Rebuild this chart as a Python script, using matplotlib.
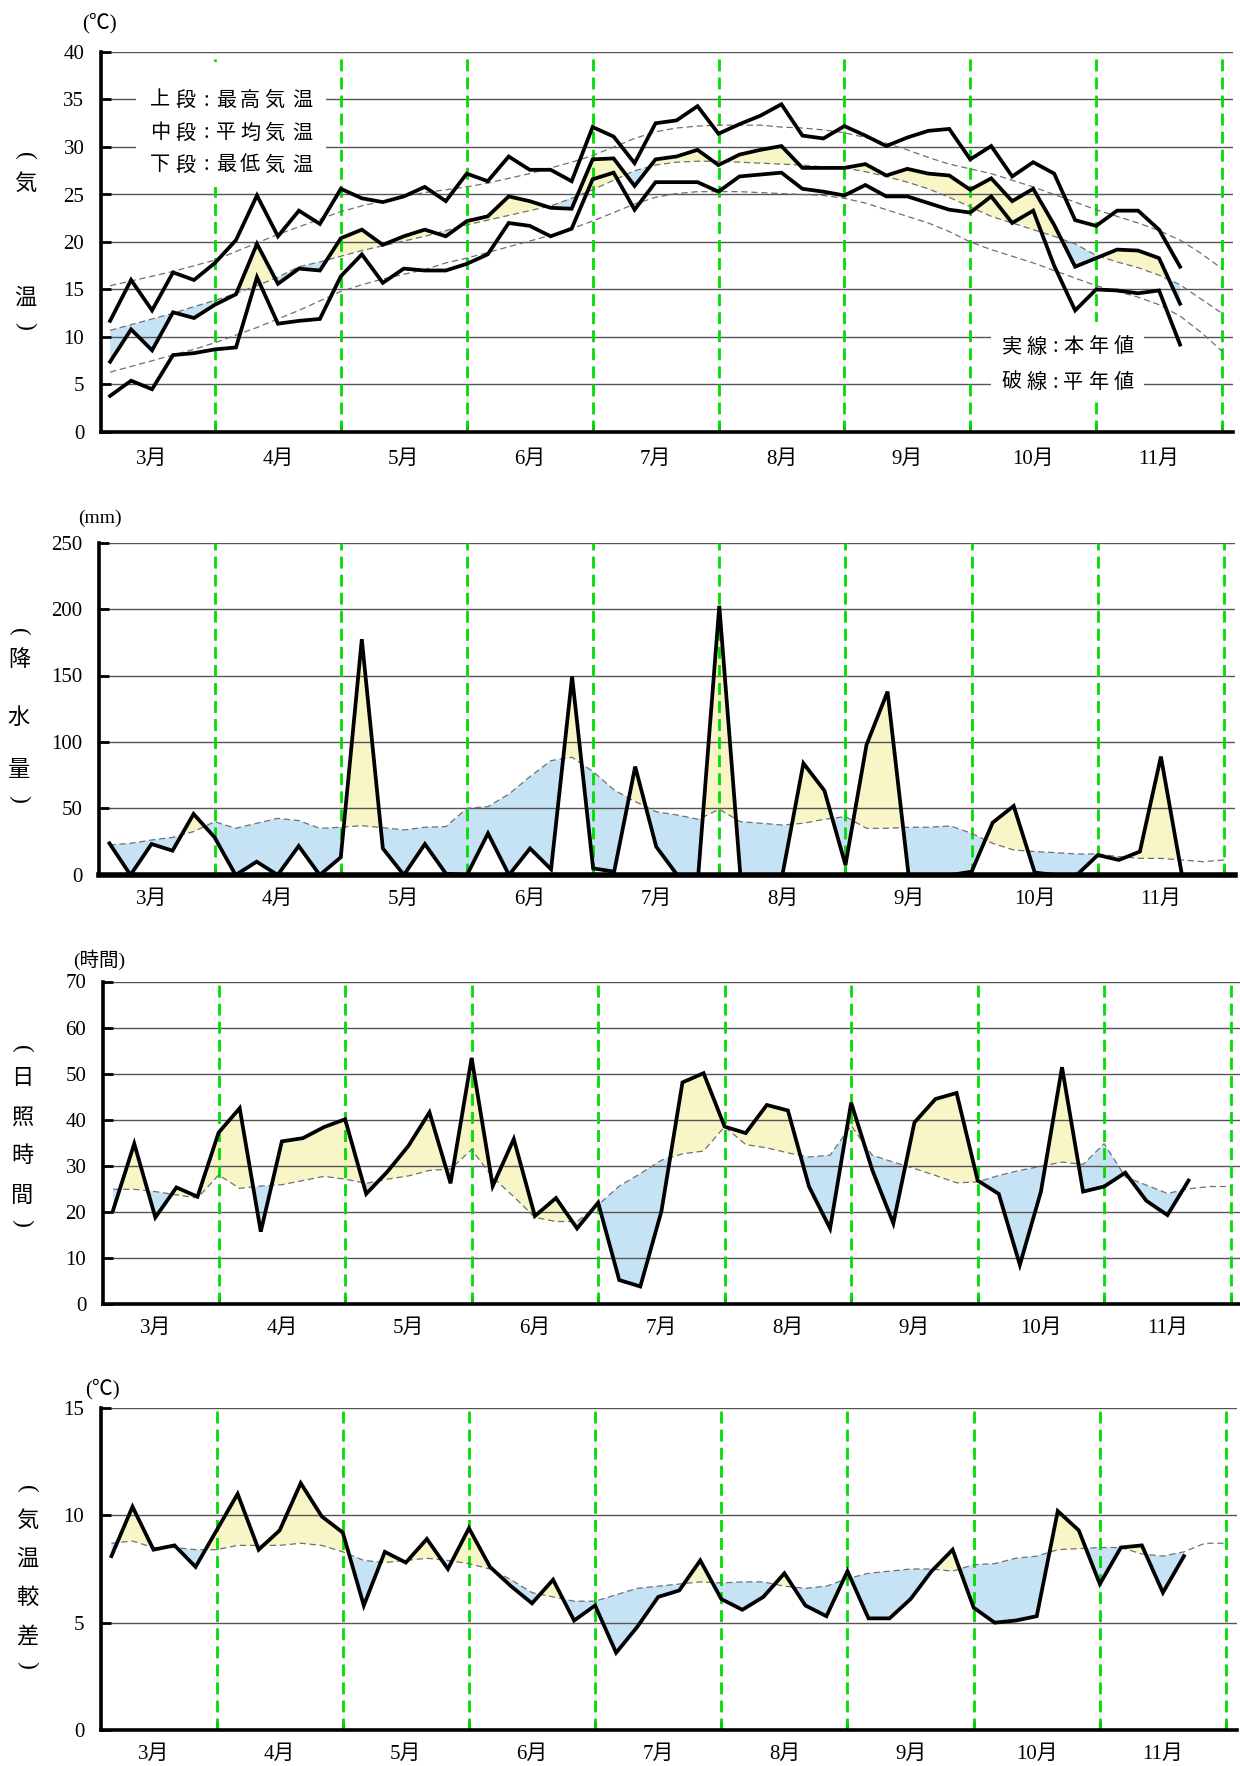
import matplotlib.pyplot as plt
import numpy as np
from matplotlib.patches import Rectangle

plt.rcParams['font.family'] = ['Liberation Serif', 'Noto Sans CJK JP']

W, H = 1240, 1766

months = ['3月', '4月', '5月', '6月', '7月', '8月', '9月', '10月', '11月']

# 気温 (半旬値) 本年値
tmax = [11.7, 16.0, 12.8, 16.8, 16.0, 17.8, 20.2, 24.9, 20.6, 23.3, 21.9, 25.6, 24.6, 24.2, 24.8, 25.8, 24.3, 27.2,
        26.4, 29.0, 27.6, 27.6, 26.4, 32.1, 31.1, 28.3, 32.5, 32.8, 34.3, 31.4, 32.4, 33.3, 34.5, 31.2, 30.9, 32.2,
        31.2, 30.1, 31.0, 31.7, 31.9, 28.7, 30.1, 26.9, 28.4, 27.2, 22.3, 21.7, 23.3, 23.3, 21.3, 17.4]
tmean = [7.4, 10.8, 8.6, 12.6, 12.0, 13.4, 14.5, 19.8, 15.6, 17.2, 17.0, 20.4, 21.3, 19.7, 20.6, 21.3, 20.6, 22.2,
         22.7, 24.8, 24.3, 23.6, 23.5, 28.7, 28.8, 25.9, 28.7, 29.0, 29.7, 28.1, 29.2, 29.7, 30.1, 27.8, 27.8, 27.8,
         28.2, 27.0, 27.7, 27.2, 27.0, 25.5, 26.7, 24.3, 25.6, 21.8, 17.4, 18.3, 19.2, 19.1, 18.3, 13.5]
tmin = [3.8, 5.4, 4.5, 8.1, 8.3, 8.7, 8.9, 16.3, 11.4, 11.7, 11.9, 16.4, 18.7, 15.7, 17.2, 17.0, 17.0, 17.7,
        18.7, 22.0, 21.7, 20.6, 21.4, 26.6, 27.3, 23.4, 26.3, 26.3, 26.3, 25.3, 26.9, 27.1, 27.3, 25.6, 25.3, 24.9,
        26.0, 24.8, 24.8, 24.1, 23.4, 23.1, 24.8, 22.0, 23.3, 17.5, 12.8, 15.0, 14.9, 14.6, 14.9, 9.2]
# 平年値
tmax_n = [15.4, 15.9, 16.4, 16.9, 17.5, 18.1, 19.0, 19.9, 20.8, 21.6, 22.4, 23.2, 23.8, 24.3, 24.8, 25.2, 25.5, 25.8,
          26.2, 26.7, 27.2, 27.8, 28.4, 29.1, 30.0, 30.9, 31.6, 32.0, 32.2, 32.3, 32.3, 32.3, 32.1, 32.0, 31.8, 31.5,
          31.0, 30.4, 29.7, 28.9, 28.2, 27.7, 27.2, 26.5, 25.8, 25.0, 24.2, 23.4, 22.7, 22.0, 21.2, 20.2, 18.8, 17.2]
tmean_n = [10.7, 11.3, 11.9, 12.5, 13.2, 13.85, 14.6, 15.4, 16.3, 17.4, 17.9, 18.5, 19.1, 19.6, 20.1, 20.6, 21.2, 21.8,
           22.3, 22.8, 23.3, 23.8, 24.6, 25.5, 26.5, 27.5, 28.1, 28.4, 28.5, 28.5, 28.4, 28.3, 28.2, 28.1, 27.9, 27.8,
           27.4, 26.9, 26.3, 25.6, 24.7, 23.7, 22.7, 22.0, 21.3, 20.6, 19.8, 18.6, 17.9, 17.3, 16.5, 15.5, 14.0, 12.5]
tmin_n = [6.3, 6.9, 7.5, 8.1, 8.7, 9.4, 10.2, 11.0, 11.9, 12.8, 13.8, 14.8, 15.5, 16.1, 16.6, 17.1, 17.8, 18.3,
          18.9, 19.5, 20.1, 20.7, 21.4, 22.2, 23.1, 24.0, 24.7, 25.1, 25.3, 25.3, 25.3, 25.2, 25.1, 25.0, 24.9, 24.6,
          24.1, 23.4, 22.7, 22.0, 21.1, 20.0, 19.2, 18.5, 17.8, 17.0, 16.2, 15.4, 14.8, 14.2, 13.4, 12.2, 10.5, 8.5]

# 降水量
rain = [23.8, 0, 23.3, 18.3, 45.9, 28.3, 0, 10.0, 0, 21.8, 0, 13.3, 177.3, 20.0, 0, 23.3, 1.0, 0,
        31.3, 0, 20.0, 4.3, 149.2, 5.0, 2.5, 81.5, 21.3, 0, 0, 202.4, 0, 0, 0, 84.0, 63.4, 7.5,
        97.8, 137.9, 0, 0, 0, 2.5, 39.4, 51.9, 1.8, 0, 0, 15.0, 11.3, 17.6, 89.0, 0]
rain_n = [22.6, 23.8, 26.3, 28.3, 32.6, 40.1, 35.1, 38.9, 42.6, 40.9, 35.1, 35.9, 37.1, 35.6, 33.9, 35.9, 36.4, 50.2,
          51.4, 60.9, 74.0, 86.0, 88.5, 77.7, 63.9, 55.2, 47.6, 45.1, 41.9, 49.4, 40.1, 38.9, 37.6, 38.9, 41.9, 43.9,
          35.1, 35.1, 35.9, 35.9, 36.9, 31.3, 23.8, 18.8, 17.6, 16.8, 15.8, 15.8, 13.8, 12.5, 12.5, 11.3, 10.0, 11.3]

# 日照時間
sun = [20.4, 34.8, 18.8, 25.3, 23.3, 37.2, 42.5, 15.7, 35.3, 36.0, 38.4, 40.1, 23.9, 28.7, 34.3, 41.6, 26.2, 53.4,
       25.6, 35.8, 19.1, 23.0, 16.4, 22.0, 5.2, 3.8, 20.1, 48.1, 50.1, 38.5, 37.1, 43.2, 42.0, 25.5, 16.4, 43.7,
       29.1, 17.5, 39.4, 44.5, 45.8, 26.8, 23.9, 8.5, 24.4, 51.4, 24.4, 25.5, 28.5, 22.4, 19.3, 26.8]
sun_n = [24.9, 24.9, 24.4, 23.7, 23.0, 28.0, 25.1, 25.6, 25.9, 26.8, 27.7, 27.1, 26.2, 27.1, 27.8, 29.0, 29.3, 33.5,
         27.5, 23.3, 18.8, 17.9, 17.9, 21.5, 25.6, 28.3, 31.2, 32.6, 33.2, 38.5, 34.6, 33.9, 32.8, 31.9, 32.3, 38.7,
         32.3, 30.8, 29.4, 27.9, 26.3, 26.5, 27.9, 29.0, 29.9, 30.8, 30.3, 34.8, 27.6, 25.8, 24.0, 25.0, 25.5, 25.5]

# 気温較差
trange = [8.1, 10.4, 8.4, 8.6, 7.6, 9.3, 11.0, 8.4, 9.3, 11.5, 9.95, 9.2, 5.8, 8.3, 7.8, 8.9, 7.5, 9.4,
          7.6, 6.7, 5.9, 7.0, 5.1, 5.8, 3.6, 4.8, 6.2, 6.5, 7.9, 6.1, 5.6, 6.2, 7.3, 5.8, 5.3, 7.4,
          5.2, 5.2, 6.1, 7.4, 8.4, 5.7, 5.0, 5.1, 5.3, 10.2, 9.3, 6.8, 8.5, 8.6, 6.4, 8.1]
trange_n = [8.7, 8.8, 8.5, 8.5, 8.4, 8.4, 8.6, 8.6, 8.6, 8.7, 8.6, 8.3, 7.9, 7.8, 7.9, 8.0, 7.9, 7.75,
            7.5, 7.0, 6.4, 6.2, 6.0, 6.0, 6.3, 6.6, 6.7, 6.8, 6.9, 6.85, 6.9, 6.9, 6.7, 6.6, 6.7, 7.05,
            7.3, 7.4, 7.5, 7.5, 7.4, 7.7, 7.75, 8.0, 8.1, 8.4, 8.45, 8.5, 8.5, 8.2, 8.1, 8.3, 8.7, 8.7]

yellow = '#f8f5c6'
blue = '#c6e3f6'
green = '#00dd00'

fig = plt.figure(figsize=(W / 100, H / 100), dpi=100)


def fx(px):
    return px / W


def fy(py):
    return 1 - py / H


def panel(box, ymax, ystep, actual, normals, fill_idx, bottom_lw=2.6, pad=12):
    # box: 6半旬目と54半旬目のx位置, 軸の左右上下 (px)
    x6, x54, left, right, top, bottom = box
    s = (x54 - x6) / 48
    ax = fig.add_axes([fx(left), fy(bottom), (right - left) / W, (bottom - top) / H])
    ax.set_xlim(6 + (left - x6) / s, 6 + (right - x6) / s)
    ax.set_ylim(0, ymax)

    # 塗りつぶし (本年値と平年値の差)
    a = np.array(actual[fill_idx])
    n = np.array(normals[fill_idx][:len(a)])
    xa = np.arange(1, len(a) + 1)
    ax.fill_between(xa, a, n, where=a >= n, interpolate=True, color=yellow, lw=0, zorder=1)
    ax.fill_between(xa, a, n, where=a <= n, interpolate=True, color=blue, lw=0, zorder=1)

    yt = np.arange(0, ymax + ystep / 2, ystep)
    for v in yt[1:]:
        ax.axhline(v, color='#555555', lw=1.0, zorder=1.5)
    for m in range(6, 55, 6):
        ax.axvline(m, color=green, lw=2.0, dashes=(4.3, 2.2), zorder=2)

    for nor in normals:
        ax.plot(np.arange(1, len(nor) + 1), nor, color='#707070', lw=0.9, dashes=(5, 3), zorder=3)
    for act in actual:
        ax.plot(np.arange(1, len(act) + 1), act, color='black', lw=2.7, zorder=4,
                solid_joinstyle='miter')

    ax.spines[['top', 'right']].set_visible(False)
    ax.spines['left'].set_linewidth(2.6)
    ax.spines['bottom'].set_linewidth(bottom_lw)
    ax.spines['left'].set_zorder(5)
    ax.spines['bottom'].set_zorder(5)

    ax.set_yticks(yt)
    ax.set_yticklabels([f'{v:g}' for v in yt])
    ax.tick_params(axis='y', direction='in', length=7, width=2, labelsize=15, pad=12)
    ax.set_xticks(range(6, 55, 6))
    ax.set_xticklabels([])
    ax.tick_params(axis='x', which='major', direction='in', length=6, width=2)
    ax.set_xticks(range(3, 52, 6), minor=True)
    ax.set_xticklabels(months, minor=True)
    ax.tick_params(axis='x', which='minor', length=0, labelsize=15, pad=pad)
    return ax


ax1 = panel((215, 1222, 101, 1233, 52, 432), 40, 5, [tmax, tmean, tmin], [tmax_n, tmean_n, tmin_n], 1, pad=13)
ax2 = panel((214.6, 1224, 99, 1235, 542.5, 875), 250, 50, [rain], [rain_n], 0, bottom_lw=4.0, pad=11)
ax3 = panel((218.6, 1230.7, 103, 1240, 981.5, 1304), 70, 10, [sun], [sun_n], 0, pad=11)
ax4 = panel((216.6, 1226, 101, 1237, 1408, 1730), 15, 5, [trange], [trange_n], 0, pad=11)

# 凡例の白地
for (x0, y0, x1, y1) in [(136, 62, 326, 187), (991, 322, 1144, 400)]:
    fig.add_artist(Rectangle((fx(x0), fy(y1)), (x1 - x0) / W, (y1 - y0) / H,
                             transform=fig.transFigure, facecolor='white', edgecolor='none', zorder=1))


def spaced(xs, y, s, size=14.5):
    for x, ch in zip(xs, s):
        fig.text(fx(x), fy(y), ch, ha='center', va='center', fontsize=size,
                 family=['Noto Sans CJK JP', 'DejaVu Sans'], zorder=3)


leg1_x = [160, 185, 206, 226, 250, 274, 302]
for y, s in zip([100, 133, 165], ['上段:最高気温', '中段:平均気温', '下段:最低気温']):
    spaced(leg1_x, y, s)
leg2_x = [1012, 1037, 1055, 1073, 1099, 1124]
for y, s in zip([347, 382], ['実線:本年値', '破線:平年値']):
    spaced(leg2_x, y, s)

# 単位
fig.text(fx(99), fy(23), '(℃)', ha='center', va='center', fontsize=15)
fig.text(fx(100), fy(518), '(mm)', ha='center', va='center', fontsize=14)
fig.text(fx(99), fy(960), '(時間)', ha='center', va='center', fontsize=14)
fig.text(fx(102), fy(1389), '(℃)', ha='center', va='center', fontsize=15)


def vlabel(x, items):
    for ch, y in items:
        if ch in '()':
            fig.text(fx(x), fy(y), ch, ha='center', va='center', fontsize=17, rotation=-90,
                     family='Liberation Serif')
        else:
            fig.text(fx(x), fy(y), ch, ha='center', va='center', fontsize=16,
                     family='Noto Sans CJK JP')


vlabel(25, [('(', 156), ('気', 183), ('温', 297), (')', 326)])
vlabel(19, [('(', 632), ('降', 659), ('水', 717), ('量', 770), (')', 799)])
vlabel(22, [('(', 1049), ('日', 1078), ('照', 1117), ('時', 1155), ('間', 1195), (')', 1223)])
vlabel(27, [('(', 1489), ('気', 1520), ('温', 1558), ('較', 1597), ('差', 1637), (')', 1665)])

fig.savefig('out.png', dpi=100)
